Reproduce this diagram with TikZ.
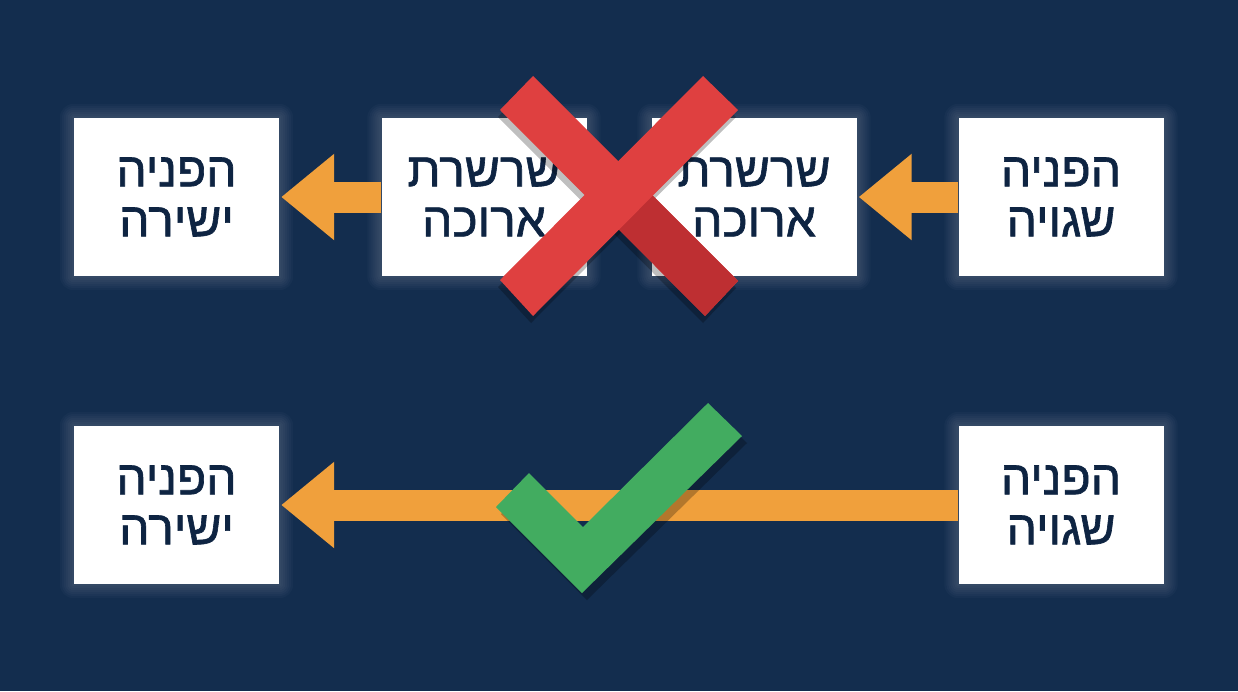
\documentclass[tikz,border=0pt]{standalone}
\usepackage{fontspec}
\setmainfont{Liberation Sans}
\newfontfamily\hebfont[Script=Hebrew,FakeBold=1.3]{Liberation Sans}
\TeXXeTstate=1
\usetikzlibrary{arrows.meta,calc,backgrounds}
\definecolor{bgnavy}{RGB}{19,45,78}
\definecolor{textnavy}{RGB}{14,36,66}
\definecolor{arroworange}{RGB}{240,160,60}
\definecolor{crossred}{RGB}{223,64,64}
\definecolor{crossdark}{RGB}{190,47,50}
\definecolor{checkgreen}{RGB}{66,172,96}

\begin{document}
\begin{tikzpicture}[x=1pt,y=-1pt]
	\tikzset{ref box/.style={fill=white,minimum width=205pt,minimum height=158pt,inner sep=0pt,align=center,text=textnavy,font=\hebfont\fontsize{48}{50}\selectfont},
		ref arrow/.style={draw=arroworange,line width=31pt,-{Triangle[length=53pt,width=83pt]}},
		shadow/.style={fill=black,opacity=0.25}}
	
	\useasboundingbox (0,0) rectangle (1238,691);
	
	% top row: the long chain
	\node [ref box] (direct) at (176.5,197) {\beginR הפניה\endR\\\beginR ישירה\endR};
	\node [ref box] (chainA) at (484,197) {\beginR שרשרת\endR\\\beginR ארוכה\endR};
	\node [ref box] (chainB) at (754,197) {\beginR שרשרת\endR\\\beginR ארוכה\endR};
	\node [ref box] (wrong) at (1061,197) {\beginR הפניה\endR\\\beginR שגויה\endR};
	% bottom row: one hop
	\node [ref box] (direct2) at (176.5,505) {\beginR הפניה\endR\\\beginR ישירה\endR};
	\node [ref box] (wrong2) at (1061,505) {\beginR הפניה\endR\\\beginR שגויה\endR};
	
	\begin{scope}[on background layer]
		\fill[bgnavy] (0,0) rectangle (1238,691);
		\foreach \n in {direct,chainA,chainB,wrong,direct2,wrong2}
		\foreach \g in {2,4,...,14}
		\fill[white,opacity=0.025,rounded corners=\g pt] ($(\n.south west)+(-\g,\g)$) rectangle ($(\n.north east)+(\g,-\g)$);
	\end{scope}
	
	\draw[ref arrow] (wrong.west) -- ($(chainB.east)+(2,0)$);
	\draw[ref arrow] (chainA.west) -- ($(direct.east)+(2,0)$);
	\draw[ref arrow] (wrong2.west) -- ($(direct2.east)+(2,0)$);
	
	% red cross
	\begin{scope}[shift={(-2,7)}]
		\fill[shadow] (533,76) -- (738,281) -- (705,316) -- (500,110) -- cycle;
		\fill[shadow] (703,76) -- (738,110) -- (533,316) -- (500,280) -- cycle;
	\end{scope}
	\fill[crossred] (533,76) -- (738,281) -- (705,316) -- (500,110) -- cycle;
	\fill[crossdark] (635.5,178.5) -- (738,281) -- (705,316) -- (602.5,213) -- cycle;
	\fill[crossred] (703,76) -- (738,110) -- (533,316) -- (500,280) -- cycle;
	
	% green tick
	\fill[shadow,shift={(5,7)}] (496,507) -- (529,473) -- (583,527) -- (708,403) -- (742,436) -- (582,593) -- cycle;
	\fill[checkgreen] (496,507) -- (529,473) -- (583,527) -- (708,403) -- (742,436) -- (582,593) -- cycle;
\end{tikzpicture}
\end{document}
